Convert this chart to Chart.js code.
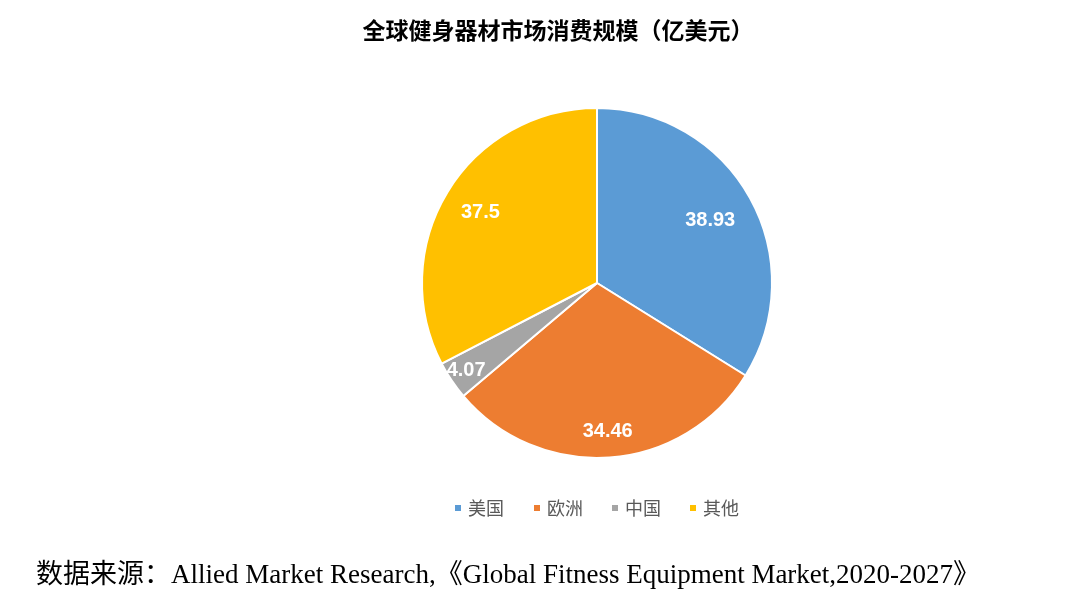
<!DOCTYPE html>
<html><head><meta charset="utf-8">
<script src="https://cdn.jsdelivr.net/npm/chart.js@4/dist/chart.umd.min.js"></script>
<style>html,body{margin:0;padding:0;background:#fff}#w{position:relative;width:1074px;height:596px}</style>
</head><body><div id="w"><canvas id="c" width="1074" height="596"></canvas></div>
<script>
const categories = ['美国','欧洲','中国','其他'];
const values = [38.93, 34.46, 4.07, 37.5];
const colors = ['#5B9BD5','#ED7D31','#A5A5A5','#FFC000'];
const title = '全球健身器材市场消费规模（亿美元）';
const source = '数据来源：Allied Market Research,《Global Fitness Equipment Market,2020-2027》';
const labelRadius = [0.74, 0.85, 0.9, 0.78];

const deco = {
  id:'deco',
  afterDatasetsDraw(chart){
    const ctx = chart.ctx;
    const meta = chart.getDatasetMeta(0);
    ctx.save();
    ctx.fillStyle = '#fff';
    ctx.font = 'bold 20px "Liberation Sans", Arial, sans-serif';
    ctx.textAlign = 'center'; ctx.textBaseline = 'middle';
    meta.data.forEach((arc,i)=>{
      const a=(arc.startAngle+arc.endAngle)/2; const r=arc.outerRadius*labelRadius[i];
      ctx.fillText(String(values[i]), arc.x+Math.cos(a)*r, arc.y+Math.sin(a)*r);
    });
    ctx.fillStyle = '#000';
    ctx.font = 'bold 23px "Noto Sans CJK SC", sans-serif';
    ctx.fillText(title, 558, 30);
    ctx.font = '18px "Noto Sans CJK SC", sans-serif';
    ctx.textAlign='left';
    const xs=[455,534,612,690];
    categories.forEach((c,i)=>{
      ctx.fillStyle=colors[i]; ctx.fillRect(xs[i],505,6,6);
      ctx.fillStyle='#595959'; ctx.fillText(c, xs[i]+13, 508);
    });
    ctx.fillStyle='#000';
    ctx.font = '27px "Liberation Serif", "Noto Sans CJK SC", serif';
    ctx.fillText(source, 36, 576);
    ctx.restore();
  }
};

new Chart(document.getElementById('c'), {
  type:'pie',
  data:{labels:categories, datasets:[{data:values, backgroundColor:colors, borderColor:'#fff', borderWidth:2}]},
  options:{responsive:false, animation:false,
    layout:{padding:{top:107,bottom:137,left:120,right:0}},
    plugins:{legend:{display:false},tooltip:{enabled:false}}},
  plugins:[deco]
});
</script></body></html>
